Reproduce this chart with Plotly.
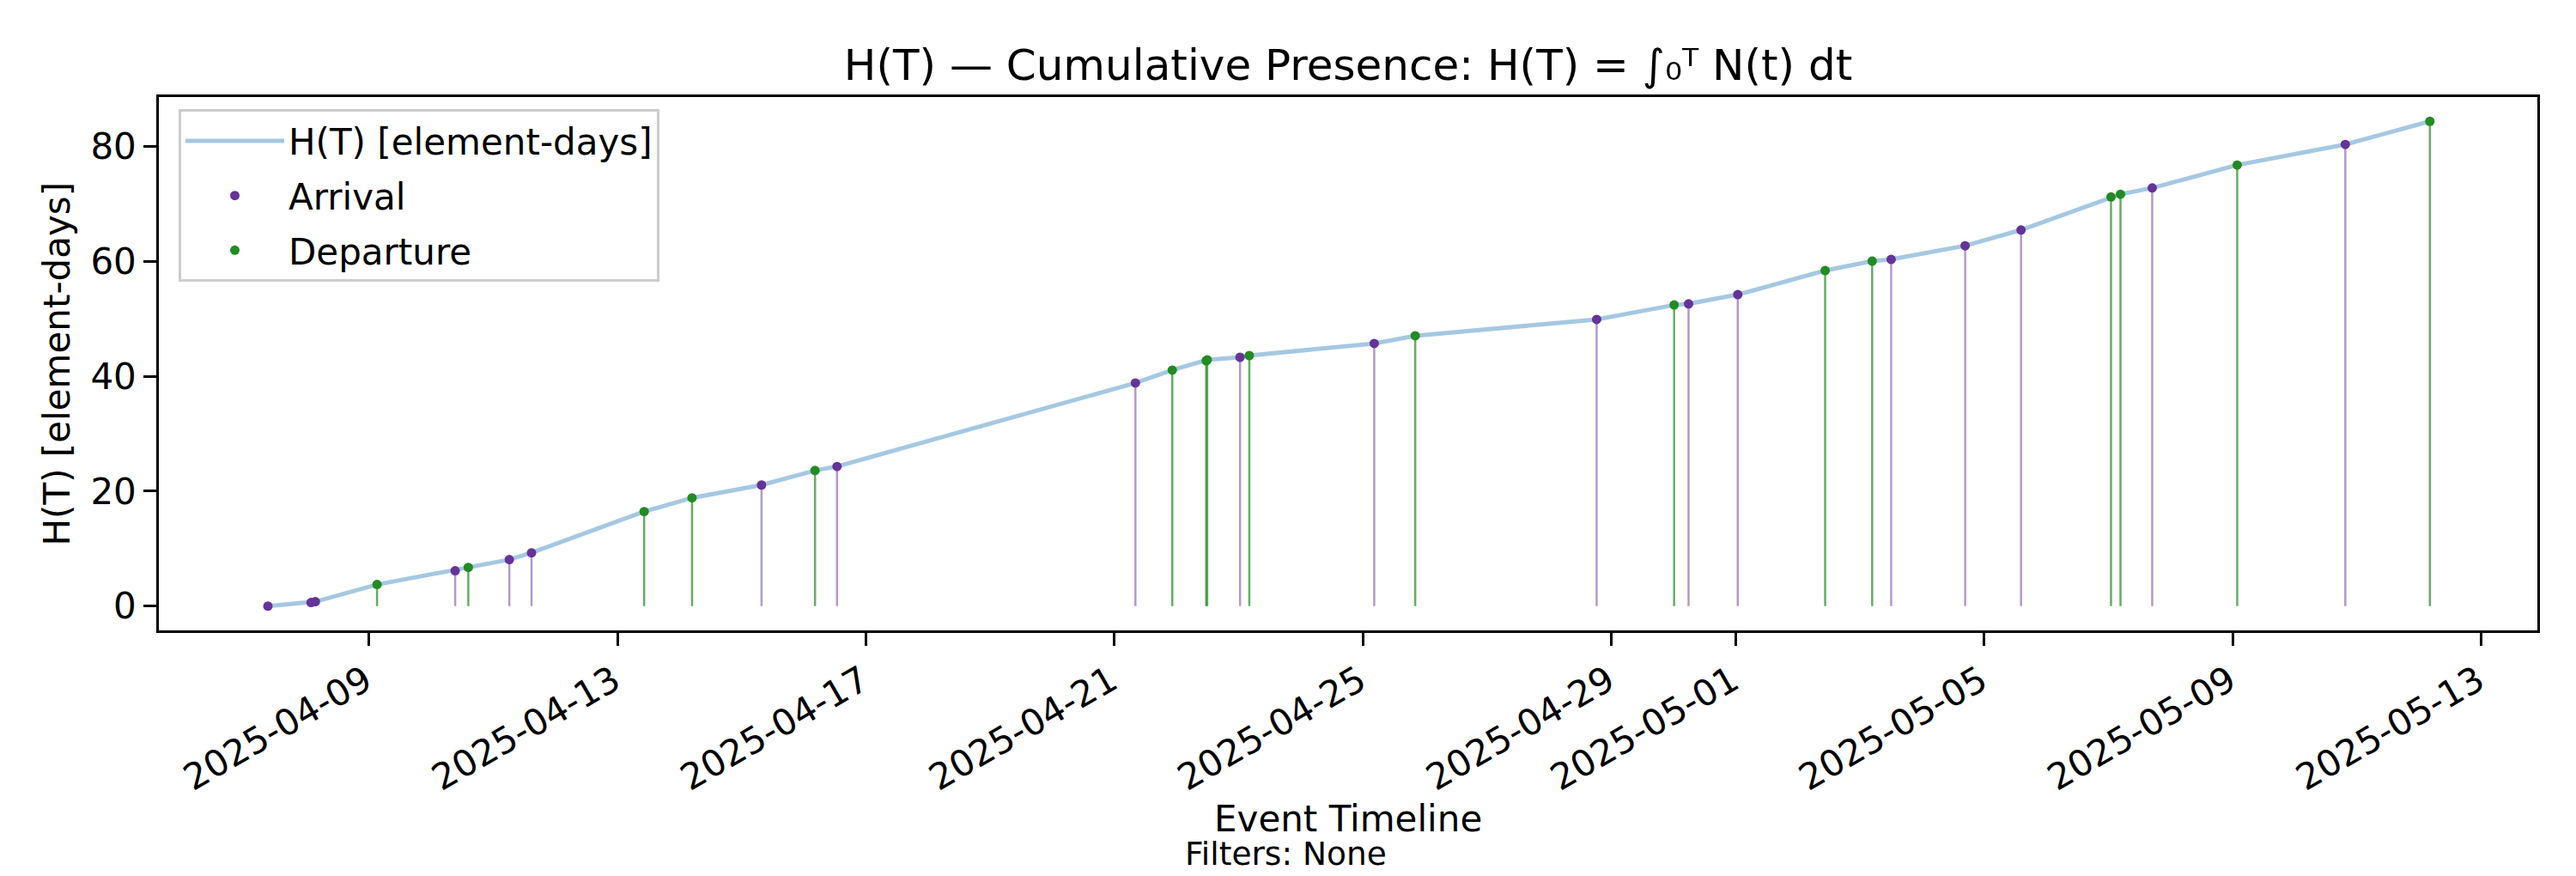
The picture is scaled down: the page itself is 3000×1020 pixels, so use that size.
import plotly.graph_objects as go

# events: time, cumulative presence H(T), kind (A = arrival, D = departure)
event_times = [
    "2025-04-07 09:00", "2025-04-08 01:40", "2025-04-08 03:20", "2025-04-09 03:10",
    "2025-04-10 09:20", "2025-04-10 14:25", "2025-04-11 06:15", "2025-04-11 14:50",
    "2025-04-13 10:20", "2025-04-14 04:50", "2025-04-15 07:40", "2025-04-16 04:20",
    "2025-04-16 12:50", "2025-04-21 08:05", "2025-04-21 22:20", "2025-04-22 11:25",
    "2025-04-22 11:50", "2025-04-23 00:30", "2025-04-23 04:05", "2025-04-25 04:20",
    "2025-04-25 20:10", "2025-04-28 18:15", "2025-04-30 00:10", "2025-04-30 05:45",
    "2025-05-01 00:45", "2025-05-02 10:30", "2025-05-03 04:40", "2025-05-03 12:00",
    "2025-05-04 16:35", "2025-05-05 14:10", "2025-05-07 00:55", "2025-05-07 04:35",
    "2025-05-07 16:50", "2025-05-09 01:40", "2025-05-10 19:25", "2025-05-12 04:05",
]
h_values = [
    0.0, 0.63, 0.77, 3.76,
    6.15, 6.74, 8.09, 9.28,
    16.45, 18.84, 21.07, 23.6,
    24.3, 38.83, 41.07, 42.7,
    42.85, 43.3, 43.6, 45.7,
    47.04, 49.88, 52.4, 52.6,
    54.2, 58.39, 60.03, 60.33,
    62.7, 65.45, 71.2, 71.67,
    72.76, 76.75, 80.33, 84.36,
]
event_kind = [
    "A", "A", "A", "D",
    "A", "D", "A", "A",
    "D", "D", "A", "D",
    "A", "A", "D", "D",
    "D", "A", "D", "A",
    "D", "A", "D", "A",
    "A", "D", "D", "A",
    "A", "A", "D", "D",
    "A", "D", "A", "D",
]
tick_dates = ["2025-04-09", "2025-04-13", "2025-04-17", "2025-04-21", "2025-04-25",
              "2025-04-29", "2025-05-01", "2025-05-05", "2025-05-09", "2025-05-13"]
y_ticks = [0, 20, 40, 60, 80]

FONT = "DejaVu Sans"
PURPLE = "#663399"
GREEN = "#228b22"


def stems(kind):
    xs, ys = [], []
    for t, h, k in zip(event_times, h_values, event_kind):
        if k == kind:
            xs += [t, t, None]
            ys += [0, h, None]
    return xs, ys


def points(kind):
    xs = [t for t, k in zip(event_times, event_kind) if k == kind]
    ys = [h for h, k in zip(h_values, event_kind) if k == kind]
    return xs, ys


fig = go.Figure()

ax, ay = stems("A")
fig.add_trace(go.Scatter(x=ax, y=ay, mode="lines", line=dict(color="rgba(102,51,153,0.5)", width=2.5),
                         showlegend=False, hoverinfo="skip"))
dx, dy = stems("D")
fig.add_trace(go.Scatter(x=dx, y=dy, mode="lines", line=dict(color="rgba(34,139,34,0.7)", width=2.5),
                         showlegend=False, hoverinfo="skip"))

fig.add_trace(go.Scatter(x=event_times, y=h_values, mode="lines", name="H(T) [element-days]",
                         legendgroup="h", line=dict(color="#a5c8e1", width=5)))

px_, py_ = points("A")
fig.add_trace(go.Scatter(x=px_, y=py_, mode="markers", name="Arrival", legendgroup="a",
                         marker=dict(color=PURPLE, size=11)))
qx, qy = points("D")
fig.add_trace(go.Scatter(x=qx, y=qy, mode="markers", name="Departure", legendgroup="d",
                         marker=dict(color=GREEN, size=11)))

axis_style = dict(showline=True, linecolor="black", linewidth=3.3, mirror=True,
                  ticks="outside", ticklen=14.6, tickwidth=3.3, tickcolor="black",
                  showgrid=False, zeroline=False, tickfont=dict(family=FONT, size=42, color="black"))

fig.update_xaxes(range=["2025-04-05 14:53", "2025-05-13 21:36"], tickvals=tick_dates,
                 ticktext=tick_dates, tickangle=-30, ticklabelshift=-4, **axis_style)
fig.update_yaxes(range=[-4.22, 88.58], tickvals=y_ticks, **axis_style)

# the page body adds 8px on the left and top, so margins are shifted to compensate
fig.update_layout(
    width=3000, height=1020,
    margin=dict(l=177, r=53, t=105, b=294),
    plot_bgcolor="white", paper_bgcolor="white",
    font=dict(family=FONT, color="black"),
    title=dict(text="H(T) — Cumulative Presence: H(T) = ∫₀ᵀ N(t) dt", x=0.5207, xanchor="center",
               y=1 - 85 / 1020, yanchor="bottom", font=dict(family=FONT, size=50)),
    legend=dict(x=0.0083, y=0.977, xanchor="left", yanchor="top", itemwidth=115, tracegroupgap=6,
                bgcolor="rgba(255,255,255,0.8)", bordercolor="#cccccc", borderwidth=3,
                font=dict(family=FONT, size=42)),
    annotations=[
        dict(text="H(T) [element-days]", textangle=-90, xref="paper", yref="paper",
             x=-0.0426, y=0.5, xanchor="center", yanchor="middle", showarrow=False,
             font=dict(family=FONT, size=42)),
        dict(text="Event Timeline", xref="paper", yref="paper", x=0.5, y=-0.353,
             xanchor="center", yanchor="middle", showarrow=False, font=dict(family=FONT, size=42)),
        dict(text="Filters: None", xref="paper", yref="paper", x=0.474, y=-0.419,
             xanchor="center", yanchor="middle", showarrow=False, font=dict(family=FONT, size=37.5)),
    ],
)

fig.write_html("out.html")
